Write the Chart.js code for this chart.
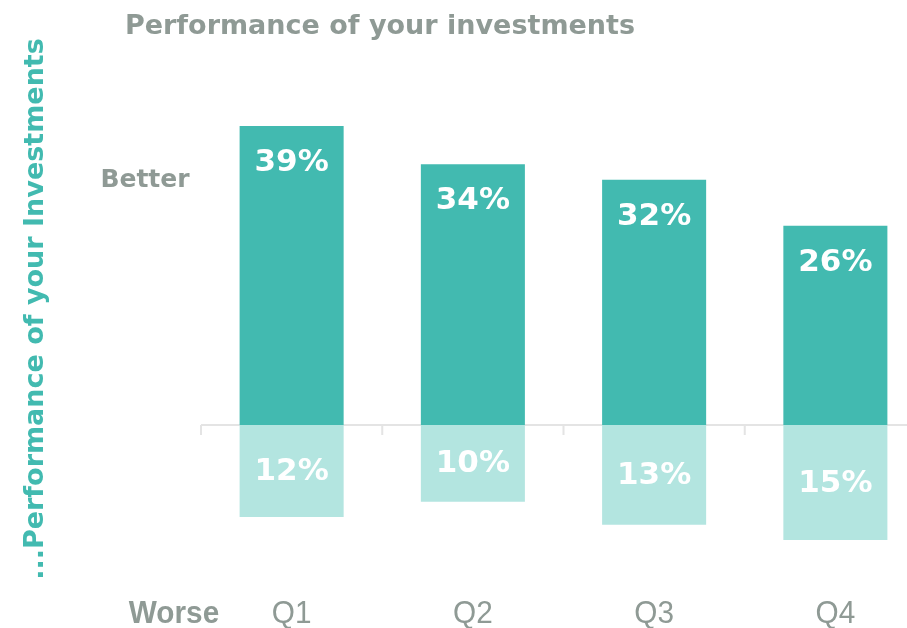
<!DOCTYPE html>
<html>
<head>
<meta charset="utf-8">
<script src="https://cdn.jsdelivr.net/npm/chart.js@4"></script>
<style>
  html, body { margin: 0; padding: 0; background: #fff; overflow: hidden; }
  canvas { display: block; }
</style>
</head>
<body>
<canvas id="perfChart" width="940" height="628"></canvas>
<script>
const quarters = ['Q1', 'Q2', 'Q3', 'Q4'];
const betterValues = [39, 34, 32, 26];
const worseValues = [-12, -10, -13, -15];

const teal = '#42bab0';
const lightTeal = '#b3e5e0';
const grey = '#8f9a95';
const axisGrey = '#e4e4e4';
const boldFont = "'DejaVu Sans', sans-serif";
const narrowFont = "'Liberation Sans Narrow', 'Arial Narrow', 'Liberation Sans', sans-serif";

// draws text squeezed horizontally (stand-in for a narrow face)
function narrowText(ctx, text, cx, cy) {
  ctx.save();
  ctx.translate(cx, cy);
  ctx.scale(0.93, 1);
  ctx.fillText(text, 0, 0);
  ctx.restore();
}

// axis line at zero, ticks, labels and titles
const decorations = {
  id: 'decorations',
  beforeDatasetsDraw(chart) {
    const { ctx, chartArea, scales: { x, y } } = chart;
    const zeroY = y.getPixelForValue(0);
    const step = x.getPixelForValue(1) - x.getPixelForValue(0);
    ctx.save();
    ctx.strokeStyle = axisGrey;
    ctx.lineWidth = 2;
    ctx.beginPath();
    ctx.moveTo(chartArea.left, zeroY);
    ctx.lineTo(chartArea.right, zeroY);
    for (let i = 0; i <= quarters.length; i++) {
      const tx = x.getPixelForValue(0) + (i - 0.5) * step;
      ctx.moveTo(tx, zeroY);
      ctx.lineTo(tx, zeroY + 10);
    }
    ctx.stroke();
    ctx.restore();
  },
  afterDatasetsDraw(chart) {
    const { ctx, scales: { x, y } } = chart;
    ctx.save();
    ctx.textAlign = 'center';
    ctx.textBaseline = 'middle';

    // values inside bars
    ctx.fillStyle = '#fff';
    ctx.font = 'bold 31px ' + boldFont;
    betterValues.forEach((v, i) => {
      ctx.fillText(v + '%', x.getPixelForValue(i), y.getPixelForValue(v) + 37);
    });
    worseValues.forEach((v, i) => {
      ctx.fillText(Math.abs(v) + '%', x.getPixelForValue(i), y.getPixelForValue(v / 2) + 1);
    });

    // category labels
    ctx.fillStyle = grey;
    ctx.font = '32px ' + narrowFont;
    quarters.forEach((q, i) => {
      narrowText(ctx, q, x.getPixelForValue(i), 614);
    });
    ctx.font = 'bold 32px ' + narrowFont;
    narrowText(ctx, 'Worse', 174, 614);

    // titles
    ctx.font = 'bold 27px ' + boldFont;
    ctx.fillText('Performance of your investments', 380, 27);
    ctx.font = 'bold 25px ' + boldFont;
    ctx.fillText('Better', 145, 180);

    ctx.fillStyle = teal;
    ctx.translate(36, 309);
    ctx.rotate(-Math.PI / 2);
    ctx.font = 'bold 27px ' + boldFont;
    ctx.fillText('...Performance of your Investments', 0, 0);
    ctx.restore();
  }
};

new Chart(document.getElementById('perfChart'), {
  type: 'bar',
  data: {
    labels: quarters,
    datasets: [
      {
        label: 'Better',
        data: betterValues,
        backgroundColor: teal,
        categoryPercentage: 1,
        barPercentage: 0.574
      },
      {
        label: 'Worse',
        data: worseValues,
        backgroundColor: lightTeal,
        categoryPercentage: 1,
        barPercentage: 0.574
      }
    ]
  },
  options: {
    responsive: false,
    animation: false,
    layout: { padding: { left: 201, right: 14, top: 80, bottom: 49.6 } },
    plugins: {
      legend: { display: false },
      tooltip: { enabled: false }
    },
    scales: {
      x: { stacked: true, display: false },
      y: { stacked: true, display: false, min: -20, max: 45 }
    }
  },
  plugins: [decorations]
});
</script>
</body>
</html>
